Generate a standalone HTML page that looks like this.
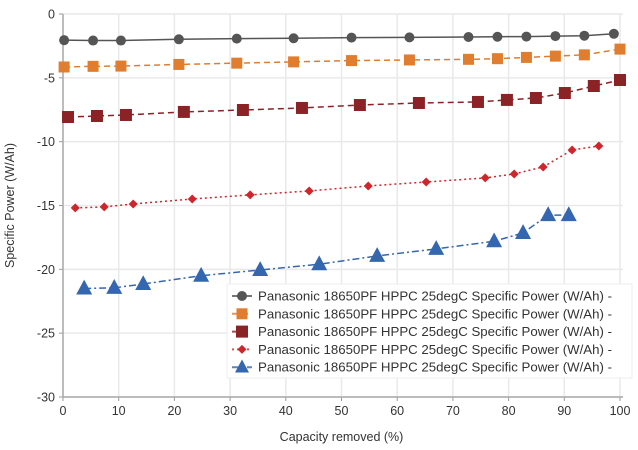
<!DOCTYPE html>
<html><head><meta charset="utf-8"><style>
body{margin:0;background:#fff;font-family:"Liberation Sans",sans-serif;}
svg text{font-family:"Liberation Sans",sans-serif;fill:#333;}
</style></head><body>
<svg id="chart" width="638" height="445"></svg>
<script>
const xTicks=[0,10,20,30,40,50,60,70,80,90,100];
const yTicks=[0,-5,-10,-15,-20,-25,-30];
const x1=[0.2,5.4,10.4,20.8,31.2,41.4,51.8,62.2,72.8,78,83.2,88.4,93.6,98.9];
const y1=[-2.05,-2.08,-2.08,-1.98,-1.93,-1.9,-1.85,-1.83,-1.8,-1.78,-1.77,-1.73,-1.7,-1.55];
const x2=[0.2,5.4,10.4,20.8,31.2,41.4,51.8,62.2,72.8,78,83.2,88.4,93.6,100];
const y2=[-4.15,-4.1,-4.08,-3.95,-3.85,-3.75,-3.65,-3.6,-3.55,-3.5,-3.4,-3.3,-3.2,-2.75];
const x3=[0.9,6.1,11.3,21.7,32.3,42.9,53.3,63.9,74.5,79.7,84.9,90.1,95.3,100];
const y3=[-8.07,-7.99,-7.91,-7.67,-7.52,-7.36,-7.13,-6.97,-6.89,-6.73,-6.58,-6.19,-5.64,-5.17];
const x4=[2.2,7.4,12.6,23.2,33.6,44.2,54.8,65.2,75.8,81,86.2,91.4,96.2];
const y4=[-15.19,-15.11,-14.88,-14.49,-14.17,-13.86,-13.47,-13.16,-12.84,-12.53,-11.98,-10.65,-10.34];
const x5=[3.8,9.2,14.4,24.8,35.4,46,56.4,67,77.4,82.6,87.1,90.8];
const y5=[-21.5,-21.45,-21.15,-20.5,-20.05,-19.6,-18.95,-18.4,-17.8,-17.15,-15.75,-15.75];
const legendLabel="Panasonic 18650PF HPPC 25degC Specific Power (W/Ah) -";

const NS="http://www.w3.org/2000/svg";
const svg=document.getElementById('chart');
const L=63,R=620,T=14,B=397;
const sx=v=>L+(v-0)/(100-0)*(R-L);
const sy=v=>T+(0-v)/(30)*(B-T);
function mk(tag,attrs,parent){const e=document.createElementNS(NS,tag);for(const k in attrs)e.setAttribute(k,attrs[k]);(parent||svg).appendChild(e);return e;}

const grid=mk('g',{});


xTicks.forEach(t=>{
  const l=mk('line',{x1:sx(t),x2:sx(t),y1:T,y2:B,stroke:'#e9e9e9','stroke-width':1.5},grid);
  
  
  const tx=mk('text',{x:sx(t),y:B+18,'text-anchor':'middle','font-size':12.5});
  tx.textContent=t;
  
  
  const tk=mk('line',{x1:sx(t),x2:sx(t),y1:B,y2:B+4,stroke:'#999'});
  
  
});
yTicks.forEach(t=>{
  const l=mk('line',{x1:L,x2:R+3,y1:sy(t),y2:sy(t),stroke:'#e9e9e9','stroke-width':1.5},grid);
  
  
  const tx=mk('text',{x:L-8,y:sy(t)+4.5,'text-anchor':'end','font-size':12.5});
  tx.textContent=t;
  
  
  const tk=mk('line',{x1:L-4,x2:L,y1:sy(t),y2:sy(t),stroke:'#999'});
  
  
});
const ya=mk('line',{x1:L,x2:L,y1:T,y2:B,stroke:'#aaa','stroke-width':1.5});


const xa=mk('line',{x1:L,x2:R+3,y1:B,y2:B,stroke:'#aaa','stroke-width':1.5});



const xt=mk('text',{x:(L+R)/2,y:441,'text-anchor':'middle','font-size':12.5});
xt.textContent='Capacity removed (%)';


const yt=mk('text',{x:0,y:0,'text-anchor':'middle','font-size':12.5,transform:`translate(14,${(T+B)/2}) rotate(-90)`});
yt.textContent='Specific Power (W/Ah)';



function marker(g,type,cx,cy,color,size){
  if(type==='circle')return mk('circle',{cx,cy,r:size,fill:color},g);
  if(type==='square')return mk('rect',{x:cx-size,y:cy-size,width:2*size,height:2*size,fill:color},g);
  if(type==='diamond')return mk('polygon',{points:`${cx},${cy-size} ${cx+size},${cy} ${cx},${cy+size} ${cx-size},${cy}`,fill:color},g);
  return mk('polygon',{points:`${cx},${cy-size*1.1} ${cx+size},${cy+size*0.75} ${cx-size},${cy+size*0.75}`,fill:color},g);
}
const series=[
  {xs:x1,ys:y1,color:'#555555',dash:'',type:'circle',size:5,name:'series-1'},
  {xs:x2,ys:y2,color:'#e07d2e',dash:'6,4',type:'square',size:5.5,name:'series-2'},
  {xs:x3,ys:y3,color:'#8b2226',dash:'6,4',type:'square',size:6,name:'series-3'},
  {xs:x4,ys:y4,color:'#d0262b',dash:'2,3',type:'diamond',size:4.5,name:'series-4'},
  {xs:x5,ys:y5,color:'#3566b0',dash:'7,3,2,3',type:'triangle',size:8,name:'series-5'}
];
series.forEach(s=>{
  const g=mk('g',{});
  
  
  const pts=s.xs.map((x,i)=>sx(x)+','+sy(s.ys[i])).join(' ');
  const pl=mk('polyline',{points:pts,fill:'none',stroke:s.color,'stroke-width':1.5,'stroke-dasharray':s.dash},g);
  
  
  s.xs.forEach((x,i)=>{
    const m=marker(g,s.type,sx(x),sy(s.ys[i]),s.color,s.size);
    
    
  });
});

const lg=mk('g',{});


const lb=mk('rect',{x:227,y:284,width:405,height:94,fill:'#fff',stroke:'#eee'},lg);


series.forEach((s,i)=>{
  const cy=296+i*17.8;
  const e=mk('g',{},lg);
  
  
  mk('line',{x1:232,x2:252,y1:cy,y2:cy,stroke:s.color,'stroke-width':2,'stroke-dasharray':s.dash,opacity:0.8},e);
  marker(e,s.type,242,cy,s.color,s.type==='triangle'?7:s.size);
  const t=mk('text',{x:258,y:cy+4.5,'font-size':13.2,textLength:354,lengthAdjust:'spacingAndGlyphs'},e);
  t.textContent=legendLabel;
});
</script>
</body></html>
